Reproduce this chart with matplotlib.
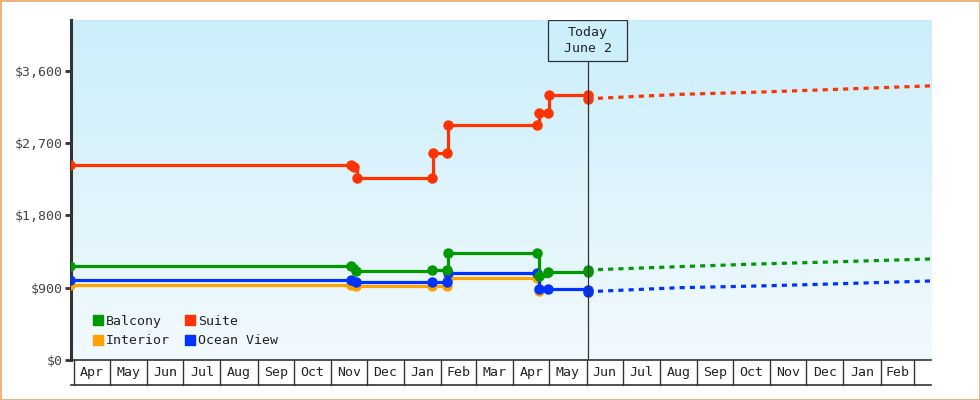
import numpy as np
import pandas as pd
import matplotlib
matplotlib.use('Agg')
import matplotlib.pyplot as plt
import matplotlib.dates as mdates
import matplotlib.transforms as mtransforms
from matplotlib.colors import LinearSegmentedColormap
from matplotlib.lines import Line2D
from matplotlib.patches import Rectangle

# Price history (date, price) - each change has old/new price points
suite_dates = ['2023-03-29', '2023-11-18', '2023-11-20', '2023-11-23', '2024-01-24', '2024-01-25',
               '2024-02-06', '2024-02-07', '2024-04-21', '2024-04-22', '2024-04-30', '2024-05-01', '2024-06-02']
suite_prices = [2428, 2428, 2403, 2266, 2266, 2577, 2577, 2926, 2926, 3075, 3075, 3299, 3299]

balcony_dates = ['2023-03-29', '2023-11-18', '2023-11-22', '2024-01-24', '2024-02-06', '2024-02-07',
                 '2024-04-21', '2024-04-22', '2024-04-30', '2024-06-02']
balcony_prices = [1164, 1164, 1102, 1120, 1120, 1332, 1332, 1040, 1090, 1096]

ocean_dates = ['2023-03-29', '2023-11-18', '2023-11-22', '2024-01-24', '2024-02-06', '2024-02-07',
               '2024-04-21', '2024-04-22', '2024-04-30', '2024-06-02']
ocean_prices = [996, 996, 971, 971, 975, 1083, 1083, 884, 878, 871]

interior_dates = ['2023-03-29', '2023-11-18', '2023-11-22', '2024-01-24', '2024-02-06', '2024-02-07',
                  '2024-04-21', '2024-04-22']
interior_prices = [934, 934, 915, 915, 915, 1021, 1021, 862]

# Projections after today
proj_dates = ['2024-06-02', '2024-08-18', '2024-10-23', '2024-12-13', '2025-03-15']
suite_proj = [3250, 3305, 3333, 3360, 3411]
balcony_proj = [1120, 1162, 1195, 1216, 1257]
ocean_proj = [850, 900, 921, 942, 983]

month_labels = ['Apr', 'May', 'Jun', 'Jul', 'Aug', 'Sep', 'Oct', 'Nov', 'Dec', 'Jan', 'Feb', 'Mar',
                'Apr', 'May', 'Jun', 'Jul', 'Aug', 'Sep', 'Oct', 'Nov', 'Dec', 'Jan', 'Feb']
y_ticks = [0, 900, 1800, 2700, 3600]

today = pd.Timestamp('2024-06-02')
x_start = pd.Timestamp('2023-03-29 12:00')
x_end = pd.Timestamp('2025-03-15')

colors = {'Balcony': '#009900', 'Interior': '#ffa200', 'Suite': '#ff3300', 'Ocean View': '#0033ff'}
font = 'DejaVu Sans Mono'

fig = plt.figure(figsize=(9.8, 4), dpi=100)
ax = fig.add_axes([71 / 980, 40 / 400, 860 / 980, 340 / 400])

# gradient background
cmap = LinearSegmentedColormap.from_list('bg', ['#f2fafe', '#cbeefb'])
ax.imshow(np.linspace(0, 1, 256).reshape(-1, 1), extent=[0, 1, 0, 1], transform=ax.transAxes,
          aspect='auto', cmap=cmap, origin='lower', zorder=0)

def draw(dates, prices, color, z):
    ax.plot(pd.to_datetime(dates), prices, drawstyle='steps-post', color=color, lw=2.3,
            marker='o', ms=6.5, zorder=z, solid_joinstyle='miter')

draw(interior_dates, interior_prices, colors['Interior'], 3)
draw(ocean_dates, ocean_prices, colors['Ocean View'], 4)
draw(balcony_dates, balcony_prices, colors['Balcony'], 5)
draw(suite_dates, suite_prices, colors['Suite'], 6)

pd_proj = pd.to_datetime(proj_dates)
for vals, name in [(suite_proj, 'Suite'), (balcony_proj, 'Balcony'), (ocean_proj, 'Ocean View')]:
    ax.plot(pd_proj, vals, color=colors[name], lw=2.3, dashes=(1.6, 1.6), zorder=4)
    ax.plot(pd_proj[:1], vals[:1], 'o', color=colors[name], ms=6.5, zorder=6)

ax.set_xlim(x_start, x_end)
ax.set_ylim(0, 4230)

# axes styling
for s in ['top', 'right']:
    ax.spines[s].set_visible(False)
ax.spines['left'].set_linewidth(2.2)
ax.spines['left'].set_color('#333333')
ax.spines['bottom'].set_linewidth(1.2)
ax.spines['bottom'].set_color('#333333')

ax.set_yticks(y_ticks)
ax.set_yticklabels(['$' + format(v, ',') for v in y_ticks], fontfamily=font, fontsize=9.5, color='#444444')
ax.tick_params(axis='y', length=4, width=2, color='#333333', pad=2)
ax.set_xticks([])

# month boxes under the axis
trans = mtransforms.blended_transform_factory(ax.transData, ax.transAxes)
month_starts = pd.date_range('2023-04-01', periods=len(month_labels) + 1, freq='MS')
box_bottom = -25 / 340
for i, lab in enumerate(month_labels):
    ax.plot([month_starts[i], month_starts[i]], [0, box_bottom], color='#333333', lw=1,
            transform=trans, clip_on=False)
    mid = month_starts[i] + (month_starts[i + 1] - month_starts[i]) / 2
    ax.text(mid, box_bottom / 2, lab, transform=trans, ha='center', va='center',
            fontfamily=font, fontsize=9.5, color='#222222', clip_on=False)
ax.plot([month_starts[-1], month_starts[-1]], [0, box_bottom], color='#333333', lw=1,
        transform=trans, clip_on=False)
ax.plot([0, 1], [box_bottom, box_bottom], color='#333333', lw=1.2, transform=ax.transAxes, clip_on=False)

# today marker
box_low = 1 - 41 / 340
ax.plot([today, today], [0, box_low], color='#333333', lw=0.9, transform=trans, zorder=7)
half = pd.Timedelta(days=33)
ax.add_patch(Rectangle((mdates.date2num(today - half), box_low), mdates.date2num(today + half) - mdates.date2num(today - half),
                       1 - box_low, transform=trans, facecolor='#cdeffb', edgecolor='#333333', lw=0.9, zorder=8))
ax.text(today, (1 + box_low) / 2, 'Today\nJune 2', transform=trans, ha='center', va='center',
        fontfamily=font, fontsize=9.5, color='#222222', linespacing=1.35, zorder=9)

# legend
handles = [Line2D([], [], ls='none', marker='s', ms=7.5, color=colors[n]) for n in
           ['Balcony', 'Interior', 'Suite', 'Ocean View']]
leg = ax.legend(handles, ['Balcony', 'Interior', 'Suite', 'Ocean View'], ncol=2, frameon=False,
                loc='lower left', bbox_to_anchor=(0.012, 0.002), handlelength=0.7, handletextpad=0.25,
                columnspacing=1.2, labelspacing=0.5, prop={'family': font, 'size': 9.5})
for t in leg.get_texts():
    t.set_color('#222222')

# orange frame around the figure
fig.patches.append(Rectangle((0.5 / 980, 0.5 / 400), 1 - 1 / 980, 1 - 1 / 400, transform=fig.transFigure,
                             fill=False, edgecolor='#e8a862', lw=1.2))

fig.savefig('out.png', dpi=100)
